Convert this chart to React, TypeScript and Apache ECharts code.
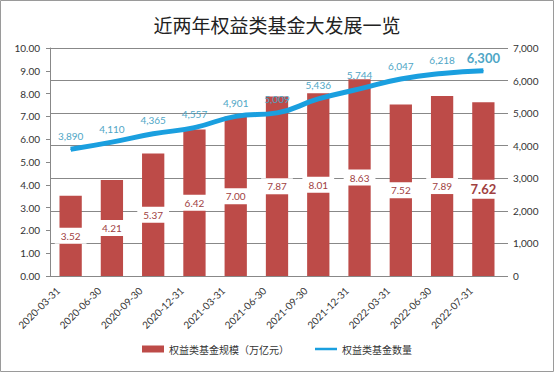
import React, { useEffect, useRef } from "react";
import * as echarts from "echarts";

const categories = [
  "2020-03-31", "2020-06-30", "2020-09-30", "2020-12-31", "2021-03-31", "2021-06-30",
  "2021-09-30", "2021-12-31", "2022-03-31", "2022-06-30", "2022-07-31",
];
const scaleValues = [3.52, 4.21, 5.37, 6.42, 7.0, 7.87, 8.01, 8.63, 7.52, 7.89, 7.62];
const countValues = [3890, 4110, 4365, 4557, 4901, 5009, 5436, 5744, 6047, 6218, 6300];
const leftTicks = { min: 0, max: 10, interval: 1 };
const rightTicks = { min: 0, max: 7000, interval: 1000 };

const FONT = "Lato, 'Noto Sans CJK SC', sans-serif";

export default function App() {
  const ref = useRef<HTMLDivElement>(null);
  useEffect(() => {
    const chart = echarts.init(ref.current!, null, { renderer: "svg" });
    const last = scaleValues.length - 1;
    chart.setOption({
      animation: false,
      backgroundColor: "#fff",
      textStyle: { fontFamily: FONT },
      graphic: [
        {
          type: "rect",
          shape: { x: 0.5, y: 0.5, width: 553, height: 371 },
          style: { fill: "none", stroke: "#9a9a9a", lineWidth: 1 },
        },
      ],
      title: {
        text: "近两年权益类基金大发展一览",
        left: "center",
        top: 10,
        textStyle: { fontSize: 19, fontWeight: "normal", color: "#222", fontFamily: "'Noto Sans CJK SC', sans-serif" },
      },
      legend: {
        bottom: 13,
        left: "center",
        itemWidth: 22,
        itemHeight: 7,
        itemGap: 26,
        textStyle: { fontSize: 10, color: "#333", fontFamily: "'Noto Sans CJK SC', sans-serif" },
        data: [
          { name: "权益类基金规模（万亿元）", icon: "rect" },
          { name: "权益类基金数量", icon: "path://M0,0h22v2.5H0z" },
        ],
      },
      grid: { left: 50, right: 50, top: 48, bottom: 96, containLabel: false },
      xAxis: {
        type: "category",
        data: categories,
        axisLine: { show: true, lineStyle: { color: "#888" } },
        axisTick: { show: false },
        axisLabel: {
          rotate: 45,
          fontSize: 10,
          color: "#333",
          margin: 0,
          padding: [0, 18, 0, 0],
          interval: 0,
        },
      },
      yAxis: [
        {
          type: "value",
          ...leftTicks,
          splitLine: { show: false },
          axisLine: { show: true, lineStyle: { color: "#888" } },
          axisTick: { show: true, length: 4, lineStyle: { color: "#888" } },
          axisLabel: {
            fontSize: 10,
            color: "#333",
            margin: 10,
            formatter: (v: number) => v.toFixed(2),
          },
        },
        {
          type: "value",
          ...rightTicks,
          splitLine: { show: true, lineStyle: { color: "#888", width: 1 } },
          axisLine: { show: false },
          axisTick: { show: true, length: 4, lineStyle: { color: "#888" } },
          axisLabel: {
            fontSize: 10,
            color: "#333",
            margin: 9,
            formatter: (v: number) => v.toLocaleString("en-US"),
          },
        },
      ],
      series: [
        {
          name: "权益类基金规模（万亿元）",
          type: "bar",
          yAxisIndex: 0,
          barWidth: "54%",
          itemStyle: { color: "#bd4b48" },
          label: {
            show: true,
            position: "inside",
            color: "#a0413f",
            fontSize: 10,
            backgroundColor: "#fff",
            padding: [3, 6],
            formatter: (p: any) => p.value.toFixed(2),
          },
          data: scaleValues.map((v, i) =>
            i === last
              ? { value: v, label: { fontSize: 13, fontWeight: "bold" } }
              : { value: v }
          ),
          z: 2,
        },
        {
          name: "权益类基金数量",
          type: "line",
          yAxisIndex: 1,
          smooth: true,
          symbol: "circle",
          symbolSize: 1,
          showSymbol: true,
          lineStyle: { color: "#1a9fdf", width: 5 },
          itemStyle: { color: "#1a9fdf" },
          label: {
            show: true,
            position: "top",
            distance: 8,
            color: "#4fa6c6",
            fontSize: 10,
            formatter: (p: any) => p.value.toLocaleString("en-US"),
          },
          data: countValues.map((v, i) =>
            i === last
              ? { value: v, label: { fontSize: 13, fontWeight: "bold", distance: 6 } }
              : { value: v }
          ),
          z: 3,
        },
      ],
    });
    return () => chart.dispose();
  }, []);
  return (
    <div
      ref={ref}
      style={{ position: "fixed", left: 0, top: 0, width: 554, height: 372 }}
    />
  );
}
